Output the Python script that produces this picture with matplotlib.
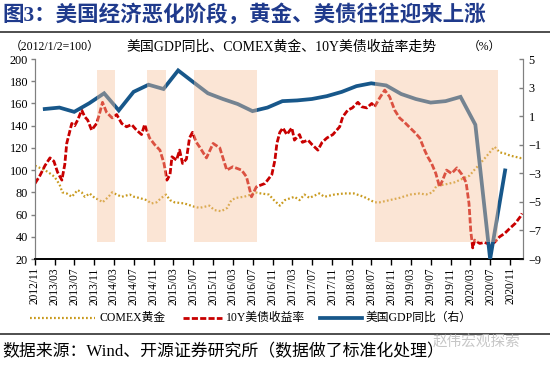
import matplotlib
matplotlib.use("Agg")
import matplotlib.pyplot as plt
import matplotlib.dates as mdates
from matplotlib.lines import Line2D
import pandas as pd

# ---------------- data ----------------
gdp_dates = ["2012-12-31", "2013-03-31", "2013-06-30", "2013-09-30", "2013-12-31",
             "2014-03-31", "2014-06-30", "2014-09-30", "2014-12-31",
             "2015-03-31", "2015-06-30", "2015-09-30", "2015-12-31",
             "2016-03-31", "2016-06-30", "2016-09-30", "2016-12-31",
             "2017-03-31", "2017-06-30", "2017-09-30", "2017-12-31",
             "2018-03-31", "2018-06-30", "2018-09-30", "2018-12-31",
             "2019-03-31", "2019-06-30", "2019-09-30", "2019-12-31",
             "2020-03-31", "2020-06-30", "2020-09-30"]
gdp_values = [1.5, 1.6, 1.3, 1.9, 2.6,
              1.4, 2.7, 3.2, 2.9,
              4.2, 3.4, 2.6, 2.2,
              1.85, 1.35, 1.6, 2.05,
              2.1, 2.2, 2.4, 2.7,
              3.1, 3.3, 3.15, 2.55,
              2.2, 1.95, 2.05, 2.35,
              0.4, -9.0, -2.8]

ust_dates = ["2012-11-01", "2012-12-01", "2013-01-01", "2013-02-01", "2013-02-25", "2013-03-20",
             "2013-04-15", "2013-05-03", "2013-05-15", "2013-06-15", "2013-07-03", "2013-07-21",
             "2013-08-15", "2013-09-03", "2013-09-21", "2013-10-15", "2013-11-15", "2013-12-03",
             "2013-12-21", "2014-01-15", "2014-02-18", "2014-03-18", "2014-04-18", "2014-05-18",
             "2014-06-18", "2014-07-18", "2014-08-18", "2014-09-06", "2014-10-06", "2014-11-06",
             "2014-12-09", "2015-01-03", "2015-01-21", "2015-02-09", "2015-02-21", "2015-03-21",
             "2015-04-09", "2015-04-27", "2015-05-21", "2015-06-09", "2015-06-27", "2015-07-21",
             "2015-08-09", "2015-09-21", "2015-11-01", "2015-12-12", "2016-01-24", "2016-03-01",
             "2016-04-24", "2016-05-24", "2016-06-24", "2016-07-24", "2016-09-15", "2016-10-27",
             "2016-11-15", "2016-11-27", "2016-12-15", "2017-01-03", "2017-01-27", "2017-02-27",
             "2017-03-15", "2017-04-15", "2017-05-03", "2017-06-06", "2017-07-01", "2017-08-06",
             "2017-09-01", "2017-10-01", "2017-11-06", "2017-12-18", "2018-01-06", "2018-02-06",
             "2018-03-06", "2018-04-09", "2018-05-03", "2018-06-03", "2018-07-03", "2018-07-21",
             "2018-08-21", "2018-09-21", "2018-10-21", "2018-11-21", "2018-12-21", "2019-01-21",
             "2019-02-24", "2019-03-24", "2019-04-24", "2019-05-24", "2019-06-12", "2019-07-06",
             "2019-08-01", "2019-08-24", "2019-09-12", "2019-10-06", "2019-11-06", "2019-12-09",
             "2020-01-09", "2020-02-03", "2020-02-21", "2020-03-03", "2020-03-15", "2020-03-27",
             "2020-04-27", "2020-05-27", "2020-06-27", "2020-07-27", "2020-08-27", "2020-09-27",
             "2020-11-01", "2020-12-01", "2021-01-01", "2021-01-12"]
ust_values = [88, 95, 104, 111, 108, 98,
              91, 105, 124, 142, 140, 145,
              154, 148, 145, 136, 142, 151,
              161, 152, 147, 150, 142, 139,
              141, 136, 132, 141, 129, 123,
              118, 106, 91, 96, 112, 109,
              118, 106, 110, 129, 134, 125,
              121, 111, 124, 120, 100, 103,
              100, 94, 76, 85, 88, 96,
              109, 124, 134, 138, 132, 138,
              127, 132, 125, 127, 123, 118,
              125, 129, 132, 139, 148, 154,
              156, 161, 157, 156, 160, 157,
              165, 172, 166, 154, 147, 143,
              138, 134, 129, 118, 112, 106,
              97, 85, 91, 100, 97, 102,
              96, 89, 70, 45, 30, 37,
              34, 35, 33, 35, 40, 43,
              48, 52, 58, 61]

gold_dates = ["2012-11-01", "2012-12-01", "2013-01-01", "2013-02-01", "2013-03-01", "2013-04-01",
              "2013-04-18", "2013-05-15", "2013-06-15", "2013-07-21", "2013-08-15", "2013-09-03",
              "2013-10-03", "2013-11-03", "2013-12-03", "2013-12-21", "2014-01-27", "2014-02-18",
              "2014-03-18", "2014-04-18", "2014-06-06", "2014-07-03", "2014-08-03", "2014-09-18",
              "2014-10-18", "2014-11-18", "2014-12-18", "2015-01-15", "2015-02-09", "2015-03-09",
              "2015-05-09", "2015-07-09", "2015-08-09", "2015-09-09", "2015-10-09", "2015-11-09",
              "2015-12-21", "2016-01-27", "2016-02-21", "2016-03-21", "2016-05-09", "2016-06-21",
              "2016-07-15", "2016-08-21", "2016-10-09", "2016-11-09", "2016-12-15", "2017-01-15",
              "2017-03-15", "2017-04-15", "2017-05-15", "2017-06-15", "2017-08-15", "2017-09-15",
              "2017-11-15", "2018-01-15", "2018-03-15", "2018-05-15", "2018-07-21", "2018-08-21",
              "2018-10-21", "2018-12-21", "2019-02-24", "2019-04-24", "2019-06-01", "2019-07-12",
              "2019-08-06", "2019-09-24", "2019-10-24", "2019-11-24", "2019-12-24", "2020-01-24",
              "2020-02-24", "2020-03-24", "2020-04-24", "2020-06-05", "2020-07-27", "2020-08-27",
              "2020-09-27", "2020-11-01", "2020-12-01", "2021-01-01", "2021-01-12"]
gold_values = [104, 102, 100, 97, 94, 87,
               80, 79, 76, 82, 80, 76,
               79, 75, 73, 71, 76, 80,
               78, 76, 78, 76, 75, 73,
               70, 71, 75, 78, 73, 71,
               70, 67, 66, 67, 68, 64,
               63, 66, 73, 75, 76, 78,
               80, 79, 78, 73, 68, 73,
               76, 73, 78, 75, 79, 76,
               78, 79, 79, 76, 71, 71,
               73, 75, 78, 79, 78, 80,
               86, 87, 88, 89, 91, 93,
               95, 100, 105, 112, 121, 116,
               115, 113, 112, 111, 109]

shade_starts = ["2013-11-15", "2014-09-18", "2015-07-04", "2018-07-21"]
shade_ends = ["2014-03-05", "2015-01-15", "2016-07-25", "2020-08-15"]

left_ticks = list(range(20, 201, 20))
right_ticks = [5, 3, 1, -1, -3, -5, -7, -9]

title = "图3：美国经济恶化阶段，黄金、美债往往迎来上涨"
subtitle = "美国GDP同比、COMEX黄金、10Y美债收益率走势"
left_unit = "（2012/1/2=100）"
right_unit = "（%）"
legend_labels = ["COMEX黄金", "10Y美债收益率", "美国GDP同比（右）"]
source = "数据来源：Wind、开源证券研究所（数据做了标准化处理）"
watermark = "赵伟宏观探索"

# ---------------- style ----------------
SERIF = ["Liberation Serif", "Noto Sans CJK SC", "DejaVu Sans"]
CJK = ["Noto Sans CJK SC", "DejaVu Sans"]
plt.rcParams["font.family"] = SERIF

C_GOLD = "#C99A1E"
C_RED = "#C80000"
C_BLUE = "#17578A"
C_SHADE = "#F6C29C"

fig = plt.figure(figsize=(5.5, 3.65), dpi=100)
ax = fig.add_axes([35 / 550, 1 - 259 / 365, (523 - 35) / 550, 200 / 365])
ax2 = ax.twinx()

gd = pd.to_datetime(gold_dates)
ud = pd.to_datetime(ust_dates)
qd = pd.to_datetime(gdp_dates)

ax.plot(gd, gold_values, color=C_GOLD, lw=1.6, linestyle=(0, (0.8, 1.0)), zorder=3)
ax.plot(ud, ust_values, color=C_RED, lw=2.0, linestyle=(0, (2.2, 0.8)), zorder=4)
ax2.plot(qd, gdp_values, color=C_BLUE, lw=2.7, solid_joinstyle="miter", zorder=3)

for s, e in zip(shade_starts, shade_ends):
    ax2.axvspan(pd.Timestamp(s), pd.Timestamp(e), ymin=0.085, ymax=0.945,
                color=C_SHADE, alpha=0.42, lw=0, zorder=10)

ax.set_ylim(20, 200)
ax.set_yticks(left_ticks)
ax2.set_ylim(-9, 5)
ax2.set_yticks(right_ticks)
ax.set_xlim(pd.Timestamp("2012-11-01"), pd.Timestamp("2021-01-18"))

ax.xaxis.set_major_locator(mdates.MonthLocator(bymonth=[3, 7, 11]))
ax.xaxis.set_major_formatter(mdates.DateFormatter("%Y/%m"))
for lab in ax.get_xticklabels():
    lab.set_rotation(90)

ax.tick_params(axis="x", direction="out", length=4, width=1, colors="black",
               labelsize=8.3, pad=2)
ax.tick_params(axis="y", direction="out", length=3, width=1, color="#808080",
               labelcolor="black", labelsize=8.8, pad=2)
ax2.tick_params(axis="y", direction="in", length=3, width=1, color="#808080",
                labelcolor="black", labelsize=8.8, pad=4)

for a in (ax, ax2):
    a.spines["top"].set_visible(False)
    a.spines["left"].set_color("#808080")
    a.spines["right"].set_color("#808080")
    a.spines["bottom"].set_color("black")
    a.spines["bottom"].set_linewidth(1.2)
    a.patch.set_visible(False)

# ---------------- texts ----------------
fig.text(2 / 550, 1 - 15 / 365, title, fontsize=15.5, fontweight="bold",
         color="#1F3A8C", family=SERIF, va="center", ha="left")
fig.add_artist(Line2D([0, 1], [1 - 32 / 365] * 2, color="#404040", lw=1.3))
fig.text(10 / 550, 1 - 47 / 365, left_unit, fontsize=8.5, family=SERIF,
         va="center", ha="left")
fig.text(282 / 550, 1 - 47 / 365, subtitle, fontsize=10, family=SERIF,
         va="center", ha="center")
fig.text(468 / 550, 1 - 47 / 365, right_unit, fontsize=8.5, family=SERIF,
         va="center", ha="left")

# legend
ly = 1 - 318 / 365
fig.add_artist(Line2D([30 / 550, 95 / 550], [ly, ly], color=C_GOLD, lw=1.6,
                      linestyle=(0, (0.8, 1.0))))
fig.text(100 / 550, ly, legend_labels[0], fontsize=8.5, family=SERIF, va="center")
fig.add_artist(Line2D([183 / 550, 222 / 550], [ly, ly], color=C_RED, lw=2.0,
                      linestyle=(0, (2.2, 0.8))))
fig.text(226 / 550, ly, legend_labels[1], fontsize=8.5, family=SERIF, va="center")
fig.add_artist(Line2D([320 / 550, 362 / 550], [ly, ly], color=C_BLUE, lw=2.7))
fig.text(366 / 550, ly, legend_labels[2], fontsize=8.5, family=SERIF, va="center")

fig.add_artist(Line2D([0, 1], [1 - 334 / 365] * 2, color="#404040", lw=1.3))
fig.text(2 / 550, 1 - 352 / 365, source, fontsize=12.2, family=SERIF,
         va="center", ha="left")
fig.text(433 / 550, 1 - 343 / 365, watermark, fontsize=10.5, family=CJK,
         color="#B8B8B8", alpha=0.8, va="center", ha="left")

fig.savefig("out.png", dpi=100)
